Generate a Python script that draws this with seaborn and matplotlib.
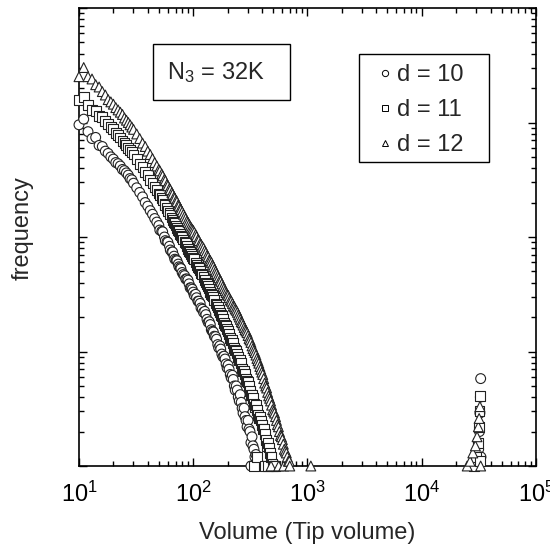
import numpy as np
import pandas as pd
import matplotlib
matplotlib.use("Agg")
import matplotlib.pyplot as plt
import matplotlib.ticker as mticker
from matplotlib.lines import Line2D
from matplotlib.patches import Rectangle
import seaborn as sns

# values (frequency vs tip volume)
vol_d10 = [10, 11, 12, 13, 14, 15, 16, 17, 18, 19, 20, 21, 22, 23, 24, 25, 26, 27, 28, 29, 30,
           32, 34, 36, 38, 40, 42, 44, 46, 48, 50, 53, 56, 59, 62, 65, 68, 71, 74, 77, 80,
           84, 88, 92, 96, 100, 105, 110, 115, 120, 126, 132, 138, 144, 150, 157, 164, 171,
           178, 186, 194, 202, 211, 220, 229, 238, 248, 258, 268, 279, 290, 302, 314, 327,
           340, 354, 368, 383, 398, 320, 345]
freq_d10 = [955, 1070, 832, 724, 741, 631, 617, 562, 537, 501, 479, 447, 437, 417, 389, 380,
            363, 347, 324, 316, 295, 269, 245, 224, 200, 186, 170, 158, 145, 135, 126, 112,
            100, 91, 83, 74, 68, 63, 58, 54, 49, 46, 43, 39, 36, 33, 31.6, 27.5, 26.3, 23.4,
            22.4, 19.1, 18.2, 15.5, 14.8, 13.5, 11.5, 11.2, 9.5, 9.1, 7.8, 7.6, 6.3, 6.2, 5.0,
            5.0, 4.0, 4.2, 3.2, 3.2, 2.5, 2.5, 2.0, 1.8, 1.4, 1.26, 1.0, 1.0, 1.0, 1.0, 1.0]
# further points of the same band, read between the ones above
vol_d10_b = [51, 54, 57, 60, 63, 66, 69, 72, 75, 78, 82, 86, 90, 94, 98, 102, 107, 112, 117,
             123, 129, 135, 141, 147, 153, 160, 167, 174, 182, 190, 198, 206, 215, 224, 233,
             243, 253, 263, 273, 284, 296, 308, 320, 333, 347, 361, 375, 390]
freq_d10_b = [115, 111, 93, 90, 77, 74, 64, 62, 55, 53, 47, 43, 42, 36, 35, 31, 29.5, 27.5, 24,
              22, 21, 18, 17.2, 15, 13.6, 12.8, 10.8, 10.5, 9.0, 8.6, 7.2, 7.0, 5.9, 5.7, 4.6,
              4.6, 3.7, 3.6, 2.9, 2.7, 2.2, 2.1, 1.6, 1.5, 1.2, 1.1, 1.0, 1.0]

vol_d11 = [10, 11, 12, 13, 14, 15, 16, 17, 18, 19, 20, 21, 22, 23, 24, 25, 26, 27, 28, 29, 30,
           32, 34, 36, 38, 40, 42, 44, 46, 48, 50, 53, 56, 59, 62, 65, 68, 71, 74, 77, 80,
           84, 88, 92, 96, 100, 105, 110, 115, 120, 126, 132, 138, 144, 150, 157, 164, 171,
           178, 186, 194, 202, 211, 220, 229, 238, 248, 258, 268, 279, 290, 302, 314, 327,
           340, 354, 368, 383, 398, 414, 431, 448, 466, 485, 505, 340, 360, 420, 450, 525]
freq_d11 = [1585, 1660, 1413, 1288, 1259, 1148, 1122, 1023, 977, 912, 871, 813, 776, 741, 692,
            661, 631, 603, 575, 550, 525, 479, 437, 407, 372, 347, 316, 295, 275, 257, 240,
            219, 195, 178, 162, 148, 135, 126, 115, 107, 100, 91, 83, 76, 71, 66, 60, 55, 51,
            47, 42, 39, 35.5, 31.6, 30.2, 26.3, 24.5, 21.9, 20.4, 17.8, 16.6, 15.1, 13.2,
            12.6, 10.7, 10.2, 8.9, 8.5, 7.1, 6.8, 5.8, 5.4, 4.5, 4.2, 3.5, 3.4, 2.8, 2.7, 2.3,
            2.1, 1.7, 1.6, 1.3, 1.2, 1.0, 1.0, 1.2, 1.0, 1.0, 1.0]
vol_d11_b = [51, 54, 57, 60, 63, 66, 69, 72, 75, 78, 82, 86, 90, 94, 98, 102, 107, 112, 117,
             123, 129, 135, 141, 147, 153, 160, 167, 174, 182, 190, 198, 206, 215, 224, 233,
             243, 253, 263, 273, 284, 296, 308, 320, 333, 347, 361, 375, 390, 406, 422, 439,
             457, 475, 495]
freq_d11_b = [232, 212, 190, 168, 157, 140, 132, 119, 112, 103, 95, 88, 78, 74, 68, 64, 57, 54,
              48, 45, 40, 37.5, 33, 31, 28, 25.5, 23, 21, 19.2, 17, 15.6, 14.3, 12.7, 11.8,
              10.3, 9.6, 8.5, 7.9, 6.8, 6.4, 5.5, 5.0, 4.2, 3.9, 3.3, 3.1, 2.6, 2.5, 2.1, 1.9,
              1.5, 1.45, 1.2, 1.05]

vol_d12 = [10, 11, 12, 13, 14, 15, 16, 17, 18, 19, 20, 21, 22, 23, 24, 25, 26, 27, 28, 29, 30,
           32, 34, 36, 38, 40, 42, 44, 46, 48, 50, 53, 56, 59, 62, 65, 68, 71, 74, 77, 80,
           84, 88, 92, 96, 100, 105, 110, 115, 120, 126, 132, 138, 144, 150, 157, 164, 171,
           178, 186, 194, 202, 211, 220, 229, 238, 248, 258, 268, 279, 290, 302, 314, 327,
           340, 354, 368, 383, 398, 414, 431, 448, 466, 485, 505, 525, 546, 568, 591, 615,
           640, 666, 693, 480, 560, 620, 700, 1070]
freq_d12 = [2512, 3020, 2512, 2399, 2138, 2042, 1862, 1738, 1585, 1514, 1445, 1349, 1288, 1230,
            1175, 1096, 1047, 1000, 955, 912, 871, 794, 724, 661, 617, 562, 525, 484, 447, 417,
            389, 355, 320, 288, 266, 245, 224, 209, 191, 178, 166, 151, 138, 129, 120, 114,
            105, 95, 88, 83, 76, 69, 63, 60, 55, 50, 46, 42, 39, 35.5, 32.7, 30.9, 28.2, 26.3,
            24.5, 22.9, 20.9, 19.1, 17.8, 16.2, 15.1, 13.8, 12.6, 11.2, 10.2, 9.3, 8.3, 7.4,
            6.6, 5.8, 5.0, 4.4, 3.9, 3.4, 3.0, 2.7, 2.3, 2.0, 1.8, 1.55, 1.35, 1.2, 1.1,
            1.0, 1.0, 1.0, 1.0, 1.0]
vol_d12_b = [51, 54, 57, 60, 63, 66, 69, 72, 75, 78, 82, 86, 90, 94, 98, 102, 107, 112, 117,
             123, 129, 135, 141, 147, 153, 160, 167, 174, 182, 190, 198, 206, 215, 224, 233,
             243, 253, 263, 273, 284, 296, 308, 320, 333, 347, 361, 375, 390, 406, 422, 439,
             457, 475, 495, 515, 535, 557, 580, 603, 627, 653, 680]
freq_d12_b = [378, 342, 310, 280, 258, 236, 218, 203, 186, 173, 158, 145, 134, 124, 117, 110,
              101, 93, 86, 80, 73, 67, 62, 57, 52, 48, 44, 41, 37, 34, 31.5, 29.5, 27.5, 25,
              23.5, 22, 20, 18.2, 17, 15.5, 14.6, 13, 12, 10.6, 9.8, 8.7, 7.9, 7.0, 6.3, 5.3,
              4.8, 4.1, 3.7, 3.1, 2.9, 2.5, 2.2, 1.85, 1.7, 1.4, 1.3, 1.1]

# peak near the full volume N3 = 32K
spike_vol_d10 = [31000, 31500, 32000, 32300, 32600, 32800, 33000]
spike_freq_d10 = [1.0, 1.4, 2.0, 2.9, 4.0, 5.8, 1.2]
spike_vol_d11 = [28500, 30000, 31000, 31600, 32000, 32300, 32600]
spike_freq_d11 = [1.0, 1.2, 1.6, 2.2, 3.0, 4.1, 1.1]
spike_vol_d12 = [25000, 26500, 28000, 29500, 30500, 31300, 31800, 32300, 32800]
spike_freq_d12 = [1.0, 1.1, 1.3, 1.5, 1.8, 2.2, 2.6, 3.3, 1.0]

labels = ["d = 10", "d = 11", "d = 12"]
marker_map = {"d = 10": "o", "d = 11": "s", "d = 12": "^"}


def series_frame(lab, parts):
    vols, freqs = [], []
    for v, f in parts:
        vols += v
        freqs += f
    out = pd.DataFrame({"volume": vols, "frequency": freqs, "d": lab})
    return out.sort_values("volume", kind="stable")


df = pd.concat([
    series_frame(labels[0], [(vol_d10, freq_d10), (vol_d10_b, freq_d10_b),
                             (spike_vol_d10, spike_freq_d10)]),
    series_frame(labels[1], [(vol_d11, freq_d11), (vol_d11_b, freq_d11_b),
                             (spike_vol_d11, spike_freq_d11)]),
    series_frame(labels[2], [(vol_d12, freq_d12), (vol_d12_b, freq_d12_b),
                             (spike_vol_d12, spike_freq_d12)]),
], ignore_index=True)

sns.set_style("ticks", {"xtick.direction": "in", "ytick.direction": "in"})
plt.rcParams["font.family"] = ["Liberation Sans", "DejaVu Sans"]
plt.rcParams["mathtext.default"] = "regular"

fig = plt.figure(figsize=(5.5, 5.48), dpi=100)
ax = fig.add_subplot(111)
fig.subplots_adjust(left=0.1436, right=0.9745, top=0.9854, bottom=0.1496)

sns.scatterplot(data=df, x="volume", y="frequency", style="d", markers=marker_map,
                color="white", edgecolor="#222222", linewidth=0.8, s=50,
                legend=False, clip_on=False, zorder=3, ax=ax)

ax.set_xscale("log")
ax.set_yscale("log")
ax.set_xlim(10, 1e5)
ax.set_ylim(1, 1e4)
ax.xaxis.set_major_locator(mticker.LogLocator(base=10, numticks=10))
ax.xaxis.set_minor_locator(mticker.LogLocator(base=10, subs=np.arange(2, 10), numticks=20))
ax.xaxis.set_major_formatter(mticker.LogFormatterMathtext())
ax.xaxis.set_minor_formatter(mticker.NullFormatter())
ax.yaxis.set_major_locator(mticker.LogLocator(base=10, numticks=10))
ax.yaxis.set_minor_locator(mticker.LogLocator(base=10, subs=np.arange(2, 10), numticks=20))

ax.tick_params(which="both", direction="in", top=True, right=True,
               labelleft=False, width=1.0, colors="black")
ax.tick_params(which="major", length=6)
ax.tick_params(which="minor", length=3.5)
ax.tick_params(axis="x", labelsize=17, pad=11)
for sp in ax.spines.values():
    sp.set_linewidth(1.2)
    sp.set_color("black")

ax.set_xlabel("Volume (Tip volume)", fontsize=17, labelpad=11)
ax.set_ylabel("frequency", fontsize=17)
ax.yaxis.set_label_coords(-0.1, 0.52)

handles = [Line2D([], [], marker=marker_map[l], linestyle="none", markerfacecolor="white",
                  markeredgecolor="black", markeredgewidth=0.7, markersize=4.5) for l in labels]
leg = ax.legend(handles, labels, loc="upper left", bbox_to_anchor=(0.649, 0.878),
                borderaxespad=0, borderpad=0, fontsize=17, frameon=False,
                handlelength=0.8, handletextpad=0.1, labelspacing=0.55)
ax.add_patch(Rectangle((0.613, 0.664), 0.284, 0.236, transform=ax.transAxes,
                       fill=False, edgecolor="black", linewidth=1.0, zorder=4))

ax.add_patch(Rectangle((0.162, 0.799), 0.300, 0.122, transform=ax.transAxes,
                       fill=False, edgecolor="black", linewidth=1.0, zorder=4))
ax.text(0.193, 0.860, r"N$_{3}$ = 32K", transform=ax.transAxes, fontsize=17,
        ha="left", va="center", zorder=5)

fig.savefig("out.png", dpi=100)
